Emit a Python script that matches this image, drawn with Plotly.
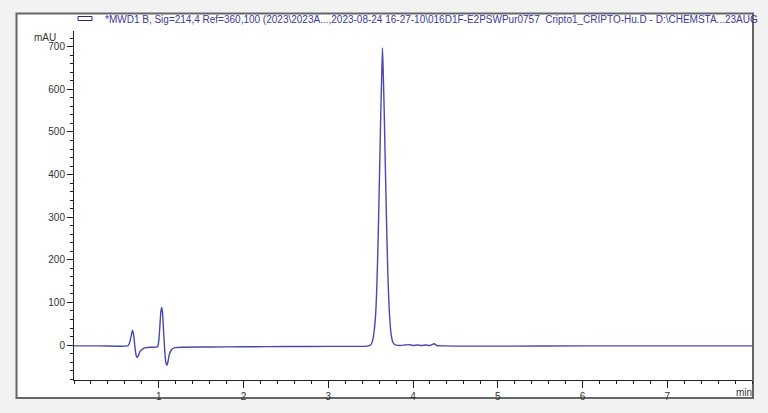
import plotly.graph_objects as go

# Retention time (min) and absorbance (mAU)
time_min = [
    0.00, 0.30, 0.60, 0.64, 0.66, 0.675, 0.69, 0.705, 0.715, 0.725, 0.735, 0.745,
    0.76, 0.78, 0.81, 0.85, 0.90, 0.95, 0.985, 1.00, 1.015, 1.025, 1.035, 1.045,
    1.055, 1.065, 1.075, 1.085, 1.097, 1.11, 1.125, 1.15, 1.19, 1.30, 1.60, 2.00,
    2.50, 3.00, 3.40, 3.46, 3.50, 3.52, 3.54, 3.56, 3.57, 3.58, 3.59, 3.60, 3.61,
    3.62, 3.63, 3.64, 3.65, 3.66, 3.67, 3.68, 3.69, 3.70, 3.71, 3.72, 3.73, 3.74,
    3.76, 3.78, 3.80, 3.85, 3.90, 3.95, 4.00, 4.05, 4.10, 4.15, 4.20, 4.25, 4.28,
    4.35, 5.00, 6.00, 7.00, 8.00,
]
absorbance_mAU = [
    -2, -2, -2.5, -1, 8, 22, 35, 22, 3, -15, -26, -29,
    -24, -15, -9, -6, -5, -5, -4, 10, 50, 78, 88, 75,
    40, 5, -25, -42, -47, -38, -22, -11, -6, -5, -4.5, -4,
    -3.5, -3, -3, -2.5, 0, 8, 30, 75, 120, 183, 262, 352, 450,
    545, 625, 697, 630, 550, 455, 360, 270, 190, 128, 82, 50, 28,
    8, 2, 0, -1, 0, 1, -1, 0, -1, 0, -1, 3, -1,
    -2, -2.5, -2, -2, -2,
]

y_tick_vals = [0, 100, 200, 300, 400, 500, 600, 700]
x_tick_vals = [1, 2, 3, 4, 5, 6, 7]

trace_label = (r"*MWD1 B, Sig=214,4 Ref=360,100 (2023\2023A...,2023-08-24 16-27-10"
               r"\016D1F-E2PSWPur0757  Cripto1_CRIPTO-Hu.D - D:\CHEMSTA...23AUG")

W, H = 768, 413
L, R, T, B = 74, 752, 31, 380  # plot area pixel bounds


def px_x(p):
    return (p - L) / (R - L)


def px_y(p):
    return (B - p) / (B - T)


fig = go.Figure()
fig.add_trace(go.Scatter(
    x=time_min, y=absorbance_mAU, mode="lines",
    line=dict(color="#4848ae", width=1.4, shape="spline", smoothing=0.6),
    showlegend=False, hoverinfo="skip",
))

axis_font = dict(family="Liberation Sans, Arial, sans-serif", size=10, color="#333333")

fig.update_layout(
    width=W, height=H,
    margin=dict(l=L, r=W - R, t=T, b=H - B, pad=0),
    paper_bgcolor="#f2f2f2",
    plot_bgcolor="rgba(0,0,0,0)",
    xaxis=dict(
        range=[0, 8.0], tickvals=x_tick_vals, ticks="outside", ticklen=7,
        tickcolor="#222222", showline=True, linecolor="#222222", linewidth=1,
        showgrid=False, zeroline=False, tickfont=axis_font,
        minor=dict(dtick=0.2, tick0=0, ticks="outside", ticklen=3, tickcolor="#222222"),
    ),
    yaxis=dict(
        range=[-82, 737], tickvals=y_tick_vals, ticks="outside", ticklen=6,
        tickcolor="#222222", showline=True, linecolor="#222222", linewidth=1,
        showgrid=False, zeroline=False, tickfont=axis_font,
        minor=dict(dtick=20, tick0=0, ticks="outside", ticklen=3, tickcolor="#222222"),
    ),
    shapes=[
        dict(type="rect", xref="paper", yref="paper", layer="below",
             x0=px_x(16.5), x1=px_x(753), y0=px_y(398), y1=px_y(13.5),
             fillcolor="white", line=dict(color="#666666", width=2)),
        dict(type="rect", xref="paper", yref="paper", layer="above",
             x0=px_x(78), x1=px_x(92), y0=px_y(20.5), y1=px_y(16.5),
             fillcolor="rgba(0,0,0,0)", line=dict(color="#2a2a7a", width=1)),
    ],
    annotations=[
        dict(text=trace_label, xref="paper", yref="paper", x=px_x(103), y=px_y(19),
             xanchor="left", yanchor="middle", showarrow=False,
             font=dict(family="Liberation Sans, Arial, sans-serif", size=10, color="#3a3a9a")),
        dict(text="mAU", xref="paper", yref="paper", x=px_x(58), y=px_y(37.5),
             xanchor="right", yanchor="middle", showarrow=False,
             font=axis_font),
        dict(text="min", xref="x", yref="paper", x=7.9, y=px_y(392),
             xanchor="center", yanchor="middle", showarrow=False,
             font=axis_font),
    ],
)

fig.write_html(
    "out.html",
    config={"displayModeBar": False, "staticPlot": True},
    post_script="document.body.style.margin='0';document.body.style.background='#f2f2f2';",
)
